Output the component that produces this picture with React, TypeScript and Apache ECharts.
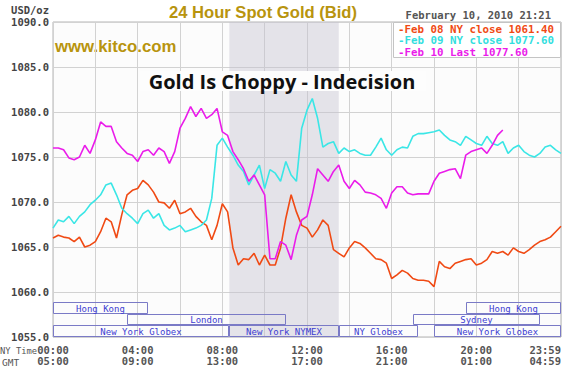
import React, { useEffect, useRef } from "react";
import * as echarts from "echarts";

// ---- data (sampled every 15 minutes, NY time, hours from 00:00) ----
const STEP_HOURS = 0.25;

const feb08Close = [
  1066.0, 1066.3, 1066.1, 1066.0, 1065.6, 1066.1, 1065.0, 1065.2, 1065.6, 1066.7, 1068.2, 1067.8,
  1066.0, 1068.6, 1070.8, 1071.3, 1071.5, 1072.4, 1071.9, 1071.1, 1070.0, 1069.9, 1069.3, 1070.2,
  1068.7, 1068.9, 1069.3, 1068.4, 1067.8, 1067.4, 1065.8, 1067.4, 1069.8, 1068.9, 1064.9, 1063.0,
  1063.7, 1063.6, 1064.3, 1063.0, 1064.1, 1063.0, 1063.0, 1064.9, 1068.2, 1070.8, 1068.9, 1067.4,
  1067.1, 1066.1, 1066.9, 1068.0, 1067.4, 1064.7, 1064.3, 1063.9, 1064.9, 1065.6, 1065.4, 1064.9,
  1064.3, 1063.7, 1063.6, 1063.2, 1061.5, 1061.9, 1062.4, 1062.1, 1061.5, 1061.3, 1061.3, 1061.2,
  1060.6, 1063.4, 1062.8, 1062.6, 1063.2, 1063.4, 1063.6, 1063.7, 1063.0, 1063.2, 1063.6, 1064.5,
  1064.3, 1064.5, 1064.1, 1064.9, 1064.5, 1064.3, 1064.7, 1065.2, 1065.6, 1065.8, 1066.1, 1066.7,
  1067.3,
];

const feb09Close = [
  1067.1, 1068.0, 1067.8, 1068.4, 1067.6, 1068.4, 1068.9, 1069.7, 1070.2, 1070.8, 1071.9, 1072.1,
  1070.8, 1069.3, 1068.7, 1068.2, 1067.6, 1068.7, 1069.1, 1068.2, 1068.7, 1067.4, 1066.9, 1067.1,
  1067.4, 1066.7, 1066.9, 1067.1, 1067.4, 1068.0, 1070.4, 1076.3, 1077.1, 1076.1, 1075.2, 1074.1,
  1073.4, 1071.9, 1073.0, 1074.1, 1071.5, 1073.6, 1073.2, 1072.3, 1074.5, 1073.0, 1072.3, 1078.2,
  1080.2, 1081.5, 1079.3, 1076.1, 1076.5, 1076.7, 1075.4, 1076.0, 1075.6, 1075.8, 1075.4, 1075.2,
  1075.2, 1076.1, 1077.1, 1075.8, 1075.2, 1075.8, 1076.1, 1076.0, 1077.3, 1077.6, 1077.6, 1077.7,
  1077.8, 1078.0, 1077.4, 1076.9, 1076.7, 1076.3, 1077.3, 1076.9, 1076.5, 1076.3, 1077.3, 1076.5,
  1076.3, 1076.7, 1075.4, 1076.0, 1076.3, 1075.6, 1075.2, 1075.0, 1075.4, 1076.1, 1076.3, 1075.8,
  1075.4,
];

const feb10Last = [
  1076.0, 1076.0, 1075.8, 1074.9, 1074.7, 1075.0, 1076.3, 1075.4, 1076.9, 1078.9, 1078.4, 1078.4,
  1076.7, 1076.0, 1075.4, 1075.2, 1074.5, 1075.6, 1075.8, 1075.2, 1076.0, 1075.6, 1074.3, 1075.6,
  1078.2, 1079.3, 1080.6, 1079.5, 1080.4, 1079.3, 1079.7, 1080.4, 1077.8, 1077.4, 1075.6, 1074.7,
  1073.7, 1072.3, 1073.0, 1071.9, 1070.8, 1063.7, 1063.7, 1065.6, 1065.2, 1063.6, 1066.3, 1068.0,
  1068.4, 1070.8, 1073.7, 1073.0, 1072.3, 1073.4, 1074.1, 1072.3, 1071.5, 1072.4, 1071.9, 1071.1,
  1071.0, 1070.8, 1070.4, 1069.3, 1071.0, 1071.7, 1071.7, 1071.0, 1070.8, 1070.9, 1070.9, 1070.9,
  1072.3, 1073.2, 1073.4, 1073.6, 1073.7, 1072.6, 1075.2, 1075.6, 1075.8, 1076.0, 1075.4, 1076.3,
  1077.4, 1078.0,
];

const seriesNames = ["Feb 08 NY close 1061.40", "Feb 09 NY close 1077.60", "Feb 10 Last 1077.60"];
const seriesColors = ["#f04a14", "#3ae6e6", "#ea1cea"];
const legendColors = ["#f04a14", "#33dede", "#ea1cea"];

const nyTimeLabels = ["00:00", "04:00", "08:00", "12:00", "16:00", "20:00", "23:59"];
const gmtTimeLabels = ["05:00", "09:00", "13:00", "17:00", "21:00", "01:00", "04:59"];

// trading sessions (hours NY time) shown under the price lines
const sessionNames = ["Hong Kong", "London", "New York Globex", "New York NYMEX", "NY Globex", "Sydney", "Hong Kong", "New York Globex"];
const sessionStart = [0, 3.5, 0, 8.33, 13.5, 17.0, 19.5, 18.0];
const sessionEnd = [4.5, 11.0, 8.33, 13.5, 17.25, 23.0, 24.0, 24.0];
const sessionRow = [0, 1, 2, 2, 2, 1, 0, 2];
const rowEdges = [1058.9, 1057.6, 1056.3, 1055.0];

const nymexBand = [8.33, 13.5];

const MONO = '"DejaVu Sans Mono", monospace';

export default function App() {
  const ref = useRef<HTMLDivElement>(null);

  useEffect(() => {
    if (!ref.current) return;
    const chart = echarts.init(ref.current, null, { renderer: "svg" });

    const toPairs = (arr: number[]) => arr.map((v, i) => [i * STEP_HOURS, v]);
    const lineData = [feb08Close, feb09Close, feb10Last];

    const sessionData = sessionStart.map((s, i) => [
      s,
      sessionEnd[i],
      rowEdges[sessionRow[i]],
      rowEdges[sessionRow[i] + 1],
    ]);

    const lineSeries: any[] = lineData.map((arr, k) => ({
      name: seriesNames[k],
      type: "line",
      data: toPairs(arr),
      showSymbol: false,
      symbol: "none",
      lineStyle: { color: seriesColors[k], width: 1.6 },
      itemStyle: { color: seriesColors[k] },
      z: 3 + k,
      markArea:
        k === 0
          ? {
              silent: true,
              itemStyle: { color: "rgba(196,193,208,0.42)" },
              data: [[{ xAxis: nymexBand[0] }, { xAxis: nymexBand[1] }]],
            }
          : undefined,
    }));

    const option: any = {
      animation: false,
      backgroundColor: "#ffffff",
      grid: {
        left: 53,
        top: 22,
        width: 508,
        height: 315,
        show: true,
        backgroundColor: "#fcfcfc",
        borderColor: "#b4b4b4",
        borderWidth: 1,
      },
      xAxis: {
        type: "value",
        min: 0,
        max: 24,
        interval: 2,
        axisLine: { show: false },
        axisTick: { show: false },
        splitLine: { show: true, lineStyle: { color: "#d2d2d2", width: 1 } },
        axisLabel: {
          show: true,
          margin: 7,
          showMinLabel: true,
          showMaxLabel: true,
          alignMaxLabel: "right",
          fontFamily: MONO,
          fontWeight: "bold",
          fontSize: 10.5,
          lineHeight: 11,
          color: "#555555",
          formatter: (v: number) => {
            if (v % 4 !== 0) return "";
            const idx = v / 4;
            return nyTimeLabels[idx] + "\n" + gmtTimeLabels[idx];
          },
        },
      },
      yAxis: {
        type: "value",
        min: 1055,
        max: 1090,
        interval: 5,
        axisLine: { show: false },
        axisTick: { show: false },
        splitLine: { show: true, lineStyle: { color: "#d2d2d2", width: 1 } },
        axisLabel: {
          margin: 4,
          fontFamily: MONO,
          fontWeight: "bold",
          fontSize: 10.5,
          color: "#444444",
          formatter: (v: number) => v.toFixed(1),
        },
      },
      series: [
        ...lineSeries,
        {
          type: "custom",
          name: "sessions",
          data: sessionData,
          encode: { x: [0, 1], y: [2, 3] },
          clip: false,
          z: 2,
          silent: true,
          renderItem: (params: any, api: any) => {
            const i = params.dataIndex;
            const p0 = api.coord([api.value(0), api.value(2)]);
            const p1 = api.coord([api.value(1), api.value(3)]);
            const x0 = Math.round(p0[0]) + 0.5;
            const y0 = Math.round(p0[1]) + 0.5;
            const x1 = Math.round(p1[0]) - 0.5;
            const y1 = Math.round(p1[1]) - 0.5;
            return {
              type: "group",
              children: [
                {
                  type: "rect",
                  shape: { x: x0, y: y0, width: x1 - x0, height: y1 - y0 },
                  style: { fill: "none", stroke: "#7a7ac6", lineWidth: 1 },
                },
                {
                  type: "text",
                  style: {
                    text: sessionNames[i],
                    x: (x0 + x1) / 2,
                    y: (y0 + y1) / 2 + 0.5,
                    align: "center",
                    verticalAlign: "middle",
                    fill: "#3c3cd2",
                    font: "9px " + MONO,
                  },
                },
              ],
            };
          },
        },
      ],
      graphic: {
        elements: [
          {
            type: "text",
            x: 49,
            y: 10,
            style: {
              text: "USD/oz",
              align: "right",
              verticalAlign: "middle",
              fill: "#444444",
              font: "bold 10.5px " + MONO,
            },
          },
          {
            type: "text",
            x: 263,
            y: 12,
            style: {
              text: "24 Hour Spot Gold (Bid)",
              align: "center",
              verticalAlign: "middle",
              fill: "#b8940e",
              font: "bold 16.6px 'Liberation Sans', Arial, sans-serif",
            },
          },
          {
            type: "text",
            x: 551,
            y: 15,
            style: {
              text: "February 10, 2010 21:21",
              align: "right",
              verticalAlign: "middle",
              fill: "#555555",
              font: "bold 10.5px " + MONO,
            },
          },
          {
            type: "text",
            x: 55,
            y: 46,
            style: {
              text: "www.kitco.com",
              align: "left",
              verticalAlign: "middle",
              fill: "#b8940e",
              font: "bold 16.8px 'Liberation Sans', Arial, sans-serif",
            },
          },
          {
            type: "rect",
            shape: { x: 140, y: 71, width: 286, height: 20 },
            style: { fill: "#fdfdfd" },
            z: 10,
          },
          {
            type: "text",
            x: 282,
            y: 81,
            z: 11,
            style: {
              text: "Gold Is Choppy - Indecision",
              align: "center",
              verticalAlign: "middle",
              fill: "#111111",
              font: "bold 20px 'Open Sans', Lato, sans-serif",
            },
          },
          {
            type: "rect",
            shape: { x: 393.5, y: 22.5, width: 167, height: 35 },
            style: { fill: "#ffffff", stroke: "#c4c4c4", lineWidth: 1 },
            z: 10,
          },
          ...seriesNames.map((name, k) => ({
            type: "text",
            x: 398,
            y: 29 + k * 11.5,
            z: 11,
            style: {
              text: "-" + name,
              align: "left",
              verticalAlign: "middle",
              fill: legendColors[k],
              font: "bold 10.8px " + MONO,
            },
          })),
          {
            type: "text",
            x: 0,
            y: 351,
            style: {
              text: "NY Time",
              align: "left",
              verticalAlign: "middle",
              fill: "#555555",
              font: "8.8px " + MONO,
            },
          },
          {
            type: "text",
            x: 2,
            y: 362,
            style: {
              text: "GMT",
              align: "left",
              verticalAlign: "middle",
              fill: "#555555",
              font: "9.5px " + MONO,
            },
          },
        ],
      },
    };

    chart.setOption(option);
    return () => chart.dispose();
  }, []);

  return (
    <div
      ref={ref}
      style={{ position: "absolute", left: 0, top: 0, width: 570, height: 368 }}
    />
  );
}
